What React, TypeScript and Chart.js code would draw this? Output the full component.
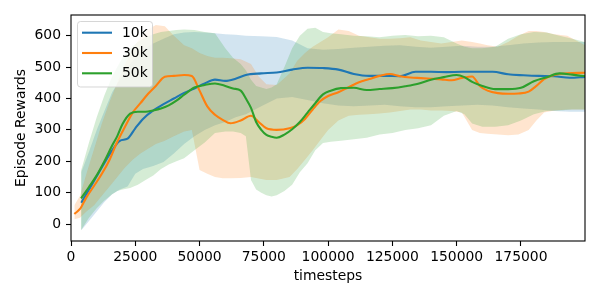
import React, { useEffect, useRef } from "react";
import { Chart, registerables } from "chart.js";

Chart.register(...registerables);

// ---- data ----
const seriesLabels = ["10k", "30k", "50k"];
const xLabel = "timesteps";
const yLabel = "Episode Rewards";
const xTicks = [0, 25000, 50000, 75000, 100000, 125000, 150000, 175000];
const yTicks = [0, 100, 200, 300, 400, 500, 600];

const steps10k = [4000, 7000, 10000, 13000, 16000, 19000, 22000, 25000, 28000, 32000, 36000, 40000, 44000, 48000, 52000, 56000, 60000, 64000, 68000, 74000, 80000, 86000, 92000, 98000, 104000, 110000, 116000, 122000, 128000, 134000, 140000, 146000, 152000, 158000, 164000, 170000, 176000, 182000, 188000, 194000, 199900];
const mean10k = [68, 110, 152, 195, 235, 265, 272, 305, 335, 362, 382, 400, 418, 432, 448, 460, 456, 463, 475, 480, 483, 492, 498, 497, 492, 478, 472, 472, 471, 485, 485, 484, 485, 485, 485, 477, 474, 472, 471, 466, 469];
const upper10k = [165, 230, 300, 360, 420, 460, 500, 530, 555, 575, 590, 605, 610, 612, 610, 608, 605, 603, 600, 598, 596, 585, 560, 555, 558, 562, 565, 568, 570, 565, 562, 565, 568, 565, 565, 570, 575, 578, 580, 580, 580];
const lower10k = [-20, 10, 40, 70, 95, 110, 120, 160, 175, 185, 198, 225, 255, 280, 300, 315, 325, 340, 350, 375, 400, 405, 395, 385, 378, 375, 378, 380, 375, 372, 372, 375, 378, 380, 378, 372, 368, 365, 360, 358, 358];

const steps30k = [1300, 3500, 6000, 9000, 12000, 15000, 18000, 21000, 24000, 27000, 30000, 33000, 36500, 40000, 44000, 47000, 50000, 53000, 56000, 59000, 62000, 66000, 70000, 73000, 76000, 80000, 85000, 88000, 91000, 94000, 97000, 100000, 104000, 108000, 112000, 116000, 120000, 124000, 128000, 132000, 136000, 140000, 144000, 148000, 152000, 156000, 159000, 162000, 166000, 170000, 174000, 178000, 181000, 184000, 188000, 193000, 199900];
const mean30k = [32, 48, 85, 122, 160, 205, 262, 310, 355, 385, 415, 440, 469, 472, 475, 472, 425, 375, 348, 332, 321, 330, 345, 325, 305, 300, 305, 315, 335, 365, 392, 408, 420, 436, 452, 462, 472, 478, 471, 467, 465, 463, 461, 458, 465, 470, 440, 425, 417, 415, 416, 422, 440, 462, 475, 480, 482];
const upper30k = [60, 90, 160, 240, 320, 390, 450, 510, 560, 595, 620, 634, 630, 600, 570, 560, 545, 535, 530, 530, 528, 525, 510, 470, 445, 443, 480, 520, 545, 565, 580, 595, 620, 615, 600, 595, 590, 590, 592, 595, 585, 580, 575, 580, 585, 580, 575, 570, 565, 580, 600, 615, 615, 612, 605, 600, 570];
const lower30k = [15, 20, 40, 60, 90, 120, 150, 180, 205, 225, 240, 255, 265, 280, 295, 300, 172, 160, 150, 146, 146, 147, 150, 145, 140, 140, 150, 175, 205, 235, 268, 300, 330, 345, 348, 350, 352, 355, 360, 365, 365, 362, 362, 360, 355, 300, 290, 288, 285, 283, 285, 300, 330, 355, 362, 365, 365];

const steps50k = [3900, 7000, 10000, 13000, 16000, 18000, 20000, 23000, 26000, 29000, 32000, 35000, 38000, 41000, 44000, 48000, 52000, 56000, 60000, 63000, 66000, 68000, 70000, 72000, 74000, 76000, 78000, 80000, 83000, 86000, 89000, 92000, 95000, 98000, 101000, 105000, 110000, 115000, 120000, 125000, 130000, 135000, 140000, 145000, 150000, 153000, 156000, 160000, 165000, 170000, 175000, 180000, 185000, 190000, 195000, 199900];
const mean50k = [82, 118, 155, 200, 250, 280, 318, 352, 358, 358, 362, 368, 378, 393, 412, 435, 443, 448, 440, 432, 425, 400, 370, 325, 300, 284, 278, 275, 285, 302, 325, 355, 385, 413, 425, 433, 434, 427, 430, 433, 439, 447, 460, 468, 475, 468, 453, 440, 430, 430, 434, 455, 468, 480, 476, 471];
const upper50k = [170, 260, 340, 410, 470, 500, 530, 560, 580, 595, 605, 612, 615, 618, 620, 618, 612, 608, 560, 530, 510, 490, 460, 440, 435, 430, 435, 445, 500, 560, 600, 622, 625, 612, 608, 605, 600, 598, 595, 600, 602, 598, 600, 595, 575, 565, 560, 560, 565, 590, 605, 612, 610, 600, 590, 580];
const lower50k = [-20, 20, 50, 75, 95, 105, 110, 115, 125, 140, 155, 175, 190, 200, 210, 235, 260, 290, 295, 295, 290, 280, 140, 110, 100, 92, 88, 92, 105, 125, 165, 194, 235, 258, 262, 265, 270, 275, 285, 290, 300, 305, 315, 345, 360, 350, 320, 310, 310, 315, 330, 350, 360, 362, 365, 365];

const lineColors = ["#1f77b4", "#ff7f0e", "#2ca02c"];
const bandColors = ["rgba(31,119,180,0.2)", "rgba(255,127,14,0.2)", "rgba(44,160,44,0.2)"];

const FONT = "'DejaVu Sans', sans-serif";
const FS = 13.9;

const pts = (xs: number[], ys: number[]) => xs.map((x, i) => ({ x, y: ys[i] }));

const framePlugin = {
  id: "frameAndLegend",
  afterDraw(chart: any) {
    const { ctx, chartArea } = chart;
    const { left, right, top, bottom } = chartArea;
    ctx.save();
    ctx.strokeStyle = "#000";
    ctx.lineWidth = 1.1;
    ctx.strokeRect(left, top, right - left, bottom - top);

    // legend (matplotlib style, upper left)
    const bx = left + 6.5;
    const by = top + 6.5;
    const bw = 75;
    const bh = 65.5;
    ctx.beginPath();
    (ctx as any).roundRect(bx, by, bw, bh, 3);
    ctx.fillStyle = "rgba(255,255,255,0.8)";
    ctx.fill();
    ctx.strokeStyle = "rgba(204,204,204,0.8)";
    ctx.lineWidth = 1;
    ctx.stroke();
    ctx.font = `${FS}px ${FONT}`;
    ctx.textBaseline = "middle";
    ctx.textAlign = "left";
    seriesLabels.forEach((lab, i) => {
      const y = by + 11.2 + i * 20.3;
      ctx.beginPath();
      ctx.moveTo(bx + 4.5, y);
      ctx.lineTo(bx + 34.5, y);
      ctx.strokeStyle = lineColors[i];
      ctx.lineWidth = 2.1;
      ctx.stroke();
      ctx.fillStyle = "#000";
      ctx.fillText(lab, bx + 44.5, y + 0.5);
    });
    ctx.restore();
  },
};

export default function App() {
  const ref = useRef<HTMLCanvasElement | null>(null);
  useEffect(() => {
    if (!ref.current) return;
    const steps = [steps10k, steps30k, steps50k];
    const means = [mean10k, mean30k, mean50k];
    const uppers = [upper10k, upper30k, upper50k];
    const lowers = [lower10k, lower30k, lower50k];

    const datasets: any[] = [];
    // lines first (drawn on top); green on top of orange on top of blue
    [2, 1, 0].forEach((i) => {
      datasets.push({
        label: seriesLabels[i],
        data: pts(steps[i], means[i]),
        borderColor: lineColors[i],
        borderWidth: 2.1,
        pointRadius: 0,
        fill: false,
        cubicInterpolationMode: "monotone",
      });
    });
    [2, 1, 0].forEach((i) => {
      const upIdx = datasets.length;
      datasets.push({
        label: seriesLabels[i] + " upper",
        data: pts(steps[i], uppers[i]),
        borderWidth: 0,
        borderColor: "rgba(0,0,0,0)",
        pointRadius: 0,
        fill: false,
      });
      datasets.push({
        label: seriesLabels[i] + " lower",
        data: pts(steps[i], lowers[i]),
        borderWidth: 0,
        borderColor: "rgba(0,0,0,0)",
        pointRadius: 0,
        fill: upIdx,
        backgroundColor: bandColors[i],
      });
    });

    const chart = new Chart(ref.current, {
      type: "line",
      data: { datasets },
      options: {
        animation: false,
        responsive: false,
        events: [],
        layout: { padding: { top: 15, right: 15, left: 0, bottom: 0 } },
        plugins: { legend: { display: false }, tooltip: { enabled: false } },
        scales: {
          x: {
            type: "linear",
            min: 0,
            max: 199900,
            afterBuildTicks: (s: any) => {
              s.ticks = xTicks.map((v) => ({ value: v }));
            },
            afterFit: (s: any) => {
              s.height = 59;
            },
            ticks: {
              color: "#000",
              font: { family: FONT, size: FS },
              padding: 3,
              maxRotation: 0,
              autoSkip: false,
              callback: (v: any) => String(v),
            },
            grid: { drawOnChartArea: false, drawTicks: true, tickLength: 5, tickColor: "#000", tickWidth: 1.1 },
            border: { display: false },
            title: {
              display: true,
              text: xLabel,
              color: "#000",
              font: { family: FONT, size: FS },
              padding: { top: 0, bottom: 15.7 },
            },
          },
          y: {
            type: "linear",
            min: -54,
            max: 666,
            afterBuildTicks: (s: any) => {
              s.ticks = yTicks.map((v) => ({ value: v }));
            },
            afterFit: (s: any) => {
              s.width = 71;
            },
            ticks: {
              color: "#000",
              font: { family: FONT, size: FS },
              padding: 5,
              autoSkip: false,
              callback: (v: any) => String(v),
            },
            grid: { drawOnChartArea: false, drawTicks: true, tickLength: 5, tickColor: "#000", tickWidth: 1.1 },
            border: { display: false },
            title: {
              display: true,
              text: yLabel,
              color: "#000",
              font: { family: FONT, size: FS },
              padding: { top: 12.7, bottom: 0 },
            },
          },
        },
      } as any,
      plugins: [framePlugin],
    });
    return () => chart.destroy();
  }, []);

  return (
    <div style={{ position: "absolute", left: 0, top: 0, width: 600, height: 300, background: "#fff" }}>
      <canvas ref={ref} width={600} height={300} style={{ width: 600, height: 300, display: "block" }} />
    </div>
  );
}
